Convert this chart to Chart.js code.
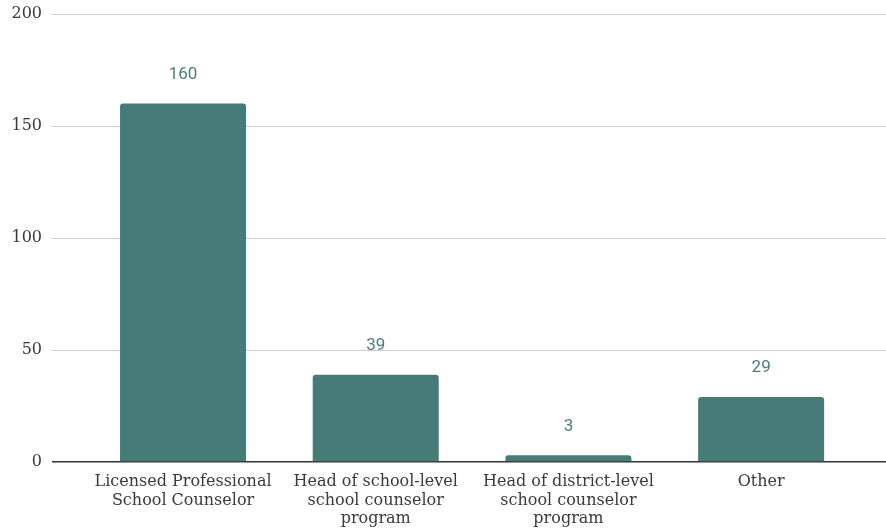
<!DOCTYPE html>
<html><head><meta charset="utf-8">
<script src="https://cdn.jsdelivr.net/npm/chart.js@4/dist/chart.umd.min.js"></script>
<style>html,body{margin:0;padding:0;background:#fff}#wrap{width:886px;height:529px}</style>
</head><body><div id="wrap"><canvas id="c" width="886" height="529"></canvas></div>
<script>
const categories = [
  ['Licensed Professional','School Counselor'],
  ['Head of school-level','school counselor','program'],
  ['Head of district-level','school counselor','program'],
  ['Other']
];
const values = [160, 39, 3, 29];
const yTicks = [0, 50, 100, 150, 200];

const barColor = '#477b78';
const labelPlugin = {
  id: 'valueLabels',
  afterDatasetsDraw(chart) {
    const ctx = chart.ctx;
    const meta = chart.getDatasetMeta(0);
    ctx.save();
    ctx.font = '17px Roboto';
    ctx.fillStyle = '#4b7d7a';
    ctx.textAlign = 'center';
    ctx.textBaseline = 'middle';
    meta.data.forEach((bar, i) => {
      ctx.fillText(String(values[i]), bar.x, bar.y - 29);
    });
    ctx.restore();
  }
};

new Chart(document.getElementById('c'), {
  type: 'bar',
  data: {
    datasets: [{
      data: values.map((v, i) => ({x: i, y: v})),
      backgroundColor: barColor,
      borderRadius: 3,
      borderSkipped: 'start',
      barPercentage: 0.654,
      categoryPercentage: 1
    }]
  },
  options: {
    responsive: false,
    animation: false,
    layout: {padding: 0},
    plugins: {legend: {display: false}, tooltip: {enabled: false}},
    scales: {
      x: {
        type: 'linear',
        offset: false,
        min: -0.68,
        max: 3.648,
        grid: {display: false, offset: false},
        border: {display: false},
        afterBuildTicks: s => { s.ticks = categories.map((c, i) => ({value: i})); },
        afterFit: s => { s.height = 67; },
        ticks: {
          autoSkip: false,
          maxRotation: 0,
          padding: 3,
          color: '#3a3a3a',
          font: {family: 'DejaVu Serif', size: 16, lineHeight: 1.15},
          callback: v => categories[v] || ''
        }
      },
      y: {
        min: 0,
        max: 200,
        afterBuildTicks: s => { s.ticks = yTicks.map(v => ({value: v})); },
        afterFit: s => { s.width = 52; s.paddingTop = 14; s.paddingBottom = 0; },
        border: {display: false},
        grid: {
          drawTicks: false,
          color: c => c.tick && c.tick.value === 0 ? '#333333' : '#cccccc',
          lineWidth: c => c.tick && c.tick.value === 0 ? 1.5 : 1
        },
        ticks: {
          padding: 10,
          color: '#3a3a3a',
          font: {family: 'DejaVu Serif', size: 16}
        }
      }
    }
  },
  plugins: [labelPlugin]
});
</script></body></html>
